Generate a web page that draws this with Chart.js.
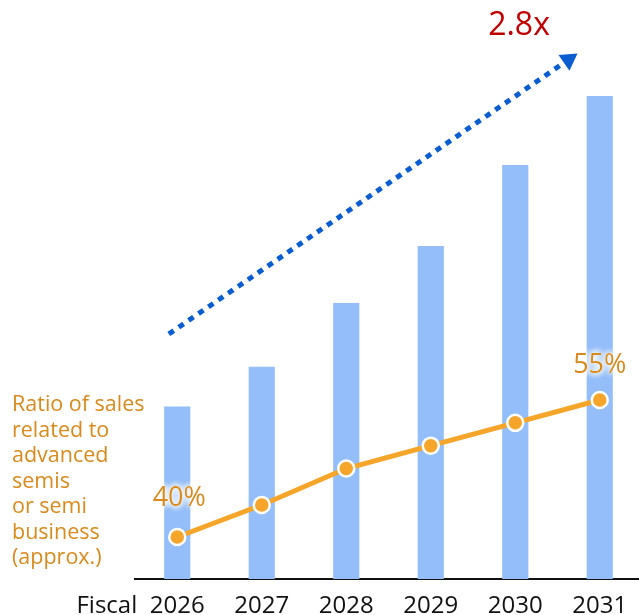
<!DOCTYPE html>
<html>
<head>
<meta charset="utf-8">
<script src="https://cdn.jsdelivr.net/npm/chart.js@4"></script>
<style>
  body { margin: 0; background: #fff; overflow: hidden; }
  #wrap { width: 639px; height: 615px; overflow: hidden; }
</style>
</head>
<body>
<!-- the axis runs off the right edge, so the canvas is a bit wider than the frame -->
<div id="wrap"><canvas id="myChart" width="642" height="615"></canvas></div>
<script>
// fiscal years and values (sales index, 2026 = 100)
var years = ['2026', '2027', '2028', '2029', '2030', '2031'];
var salesIndex = [100, 123, 160, 193, 240, 280];
// share of sales tied to advanced semis, %
var ratioPct = [40, 43.5, 47.5, 50, 52.5, 55];
// growth arrow, from / to in (slot, index) units
var arrowX = [-0.1, 4.63];
var arrowY = [142, 301];
var growthLabel = '2.8x';
var ratioLines = ['Ratio of sales', 'related to', 'advanced', 'semis', 'or semi', 'business', '(approx.)'];

var FONT = '"Open Sans", "Noto Sans", sans-serif';
var ORANGE_TXT = '#d98a1c';

function haloText(ctx, txt, x, y) {
  ctx.save();
  ctx.shadowColor = '#fff';
  ctx.shadowBlur = 6;
  ctx.fillStyle = '#fff';
  for (var k = 0; k < 4; k++) ctx.fillText(txt, x, y);
  ctx.restore();
  ctx.fillText(txt, x, y);
}

// hidden scales shouldn't reserve room for tick labels
function noPad(s) {
  s.paddingLeft = 0;
  s.paddingRight = 0;
  s.paddingTop = 0;
  s.paddingBottom = 0;
}

var extraText = {
  id: 'extraText',
  afterDatasetsDraw: function(chart) {
    var ctx = chart.ctx;
    var line = chart.getDatasetMeta(1).data;
    ctx.save();

    // point labels at both ends of the ratio line
    ctx.font = '27px ' + FONT;
    ctx.fillStyle = ORANGE_TXT;
    ctx.textAlign = 'center';
    ctx.textBaseline = 'alphabetic';
    haloText(ctx, ratioPct[0] + '%', line[0].x + 2, line[0].y - 31);
    ctx.fillStyle = ORANGE_TXT;
    haloText(ctx, ratioPct[5] + '%', line[5].x, line[5].y - 27);

    // series description on the left
    ctx.font = '21.5px ' + FONT;
    ctx.fillStyle = ORANGE_TXT;
    ctx.textAlign = 'left';
    for (var i = 0; i < ratioLines.length; i++) {
      ctx.fillText(ratioLines[i], 12, 411 + i * 25.5);
    }

    // growth multiple above the arrow
    ctx.font = '32px ' + FONT;
    ctx.fillStyle = '#c00000';
    ctx.textAlign = 'center';
    ctx.fillText(growthLabel, 519, 35);
    ctx.restore();
  },
  afterDraw: function(chart) {
    // "Fiscal" prefix, on the same line as the year ticks
    var ctx = chart.ctx;
    var xs = chart.scales.x;
    ctx.save();
    ctx.font = '24px ' + FONT;
    ctx.fillStyle = '#111';
    ctx.textAlign = 'right';
    ctx.textBaseline = 'middle';
    ctx.fillText('Fiscal', xs.getPixelForValue(0) - 40, xs.top + 27);
    ctx.restore();
  }
};

var ctx = document.getElementById('myChart').getContext('2d');

var myChart = new Chart(ctx, {
  type: 'bar',
  data: {
    labels: years,
    datasets: [{
      type: 'bar',
      data: salesIndex,
      backgroundColor: '#94bef9',
      barPercentage: 0.31,
      categoryPercentage: 1,
      grouped: false,
      yAxisID: 'y',
      order: 3
    }, {
      type: 'line',
      data: ratioPct,
      borderColor: '#f5a52a',
      borderWidth: 5,
      pointRadius: 8,
      pointBorderWidth: 2.5,
      pointBackgroundColor: '#f5a52a',
      pointBorderColor: '#fff',
      yAxisID: 'y2',
      order: 2
    }, {
      type: 'line',
      data: [{x: arrowX[0], y: arrowY[0]}, {x: arrowX[1], y: arrowY[1]}],
      xAxisID: 'xa',
      yAxisID: 'y',
      borderColor: '#0a5dd0',
      borderWidth: 5,
      borderDash: [6, 6],
      borderCapStyle: 'butt',
      pointStyle: 'triangle',
      pointRadius: [0, 11],
      pointRotation: 55,
      pointBorderWidth: 0,
      pointBackgroundColor: '#0a5dd0',
      order: 1
    }]
  },
  options: {
    responsive: false,
    animation: false,
    layout: { autoPadding: false, padding: { left: 135, right: 0, top: 0, bottom: 0 } },
    plugins: {
      legend: { display: false },
      tooltip: { enabled: false }
    },
    scales: {
      x: {
        offset: true,
        grid: { display: false, drawTicks: false },
        border: { display: true, color: '#111', width: 2 },
        ticks: { color: '#111', font: { family: FONT, size: 24 }, padding: 13 },
        afterFit: function(s) {
          noPad(s);
          s.height = 36;
        }
      },
      xa: {
        type: 'linear',
        display: false,
        offset: false,
        min: -0.5,
        max: 5.5,
        afterFit: noPad
      },
      y: {
        display: false,
        min: 0,
        max: 335.6,
        afterFit: noPad
      },
      y2: {
        display: false,
        min: 35.4,
        max: 98.8,
        afterFit: noPad
      }
    }
  },
  plugins: [extraText]
});
</script>
</body>
</html>
